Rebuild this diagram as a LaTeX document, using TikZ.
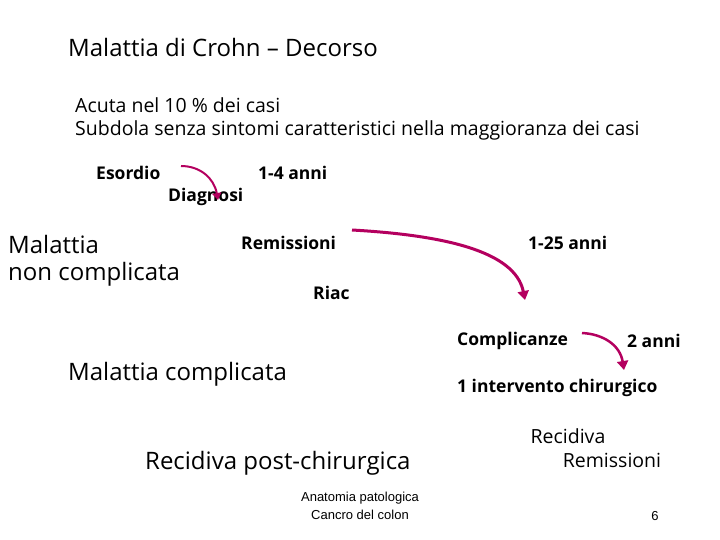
\documentclass[tikz,border=0pt]{standalone}
\usepackage{fontspec}
\usetikzlibrary{arrows.meta}
\setmainfont{Open Sans}
\newfontfamily\arialf{Liberation Sans}
\definecolor{arr}{RGB}{180,0,95}
\begin{document}
\begin{tikzpicture}[x=1pt,y=-1pt,
  every node/.style={inner sep=0pt,anchor=west},
  big/.style={font=\fontsize{24}{28}\selectfont},
  mid/.style={font=\fontsize{19.5}{23}\selectfont},
  bld/.style={font=\fontsize{17.5}{20}\selectfont\bfseries},
  sm/.style={font=\arialf\fontsize{13}{16}\selectfont},
  cur/.style={draw=arr,line width=3pt,-{Triangle[length=9pt,width=11pt]}}]
\useasboundingbox (0,0) rectangle (720,540);
\node[big] (t) at (68,48) {Malattia di Crohn – Decorso};
\node[mid] (a1) at (75,105) {Acuta nel 10 \% dei casi};
\node[mid] (a2) at (75,130) {Subdola senza sintomi caratteristici nella maggioranza dei casi};
\node[bld] (es) at (96,173) {Esordio};
\node[bld] (di) at (168,197) {Diagnosi};
\node[bld] (y14) at (258,173) {1-4 anni};
\node[big] (m1) at (8,245) {Malattia};
\node[big] (m2) at (8,274) {non complicata};
\node[bld] (re) at (241,243) {Remissioni};
\node[bld] (ri) at (313,293) {Riac};
\node[bld] (y125) at (528,243) {1-25 anni};
\node[bld] (co) at (457,341) {Complicanze};
\node[bld] (y2) at (627,341) {2 anni};
\node[big] (mc) at (68,374) {Malattia complicata};
\node[bld] (in) at (457,388) {1 intervento chirurgico};
\node[big] (rp) at (145,463) {Recidiva post-chirurgica};
\node[mid,anchor=center] (r1) at (568,436) {Recidiva};
\node[mid,anchor=center] (r2) at (612,460) {Remissioni};
\node[sm,anchor=center] (ap) at (360,498) {Anatomia patologica};
\node[sm,anchor=center] (cc) at (360,515) {Cancro del colon};
\node[sm,anchor=center] (pg) at (655,516) {6};
\coordinate (e1) at (181,166);
\coordinate (e2) at (218,200);
\draw[cur,line width=2pt,-{Triangle[length=7pt,width=9pt]}] (e1) .. controls (200,166) and (214,178) .. (e2);
\coordinate (b1) at (352,230);
\coordinate (b2) at (525,300);
\draw[cur] (b1) .. controls (440,235) and (515,250) .. (b2);
\coordinate (c1) at (582,333);
\coordinate (c2) at (624,370);
\draw[cur,line width=2.5pt] (c1) .. controls (603,334) and (620,345) .. (c2);
\end{tikzpicture}
\end{document}
